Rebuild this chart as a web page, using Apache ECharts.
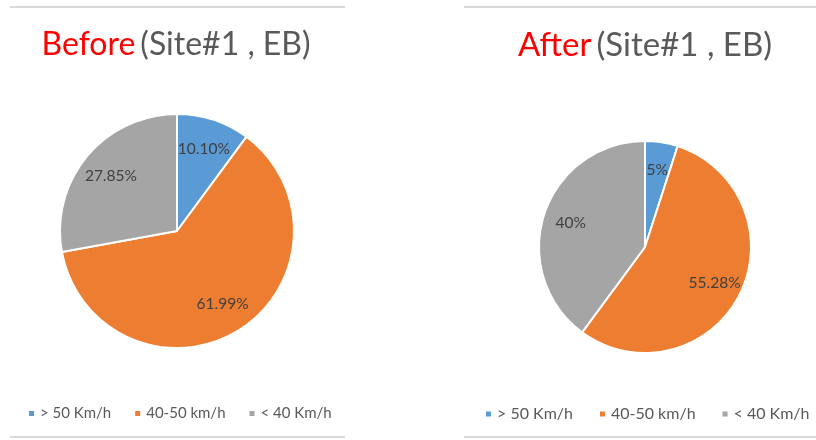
<!DOCTYPE html>
<html>
<head>
<meta charset="utf-8">
<script src="https://cdn.jsdelivr.net/npm/echarts@6/dist/echarts.min.js"></script>
<style>
  html, body { margin: 0; padding: 0; background: #ffffff; }
  #chart { width: 816px; height: 440px; }
</style>
</head>
<body>
<div id="chart"></div>
<script>
// Speed bands shown in both pies
const categories = ['> 50 Km/h', '40-50 km/h', '< 40 Km/h'];
const colors = ['#5B9BD5', '#ED7D31', '#A5A5A5'];

// Share of vehicles per speed band (percent)
const beforeValues = [10.10, 61.99, 27.85];
const afterValues = [5, 55.28, 40];

// Label text as printed on each slice
const beforeLabels = ['10.10%', '61.99%', '27.85%'];
const afterLabels = ['5%', '55.28%', '40%'];

const FONT = 'Lato, "Open Sans", sans-serif';

function sliceData(values) {
  return values.map((v, i) => ({ name: categories[i], value: v, itemStyle: { color: colors[i] } }));
}

// Visible pie: coloured slices with white separators
function pieSeries(values, center, radius) {
  return {
    type: 'pie',
    center: center,
    radius: [0, radius],
    startAngle: 90,
    clockwise: true,
    animation: false,
    silent: true,
    label: { show: false },
    labelLine: { show: false },
    itemStyle: { borderColor: '#ffffff', borderWidth: 2 },
    emphasis: { disabled: true },
    data: sliceData(values)
  };
}

// Transparent twin pie carrying the value labels, so the labels sit
// at roughly 70% of the visible radius instead of the midpoint
function labelSeries(values, labels, center, radius) {
  return {
    type: 'pie',
    center: center,
    radius: [0, radius * 1.42],
    startAngle: 90,
    clockwise: true,
    animation: false,
    silent: true,
    z: 5,
    itemStyle: { color: 'rgba(0,0,0,0)', borderWidth: 0 },
    emphasis: { disabled: true },
    labelLine: { show: false },
    label: {
      show: true,
      position: 'inside',
      fontFamily: FONT,
      fontSize: 15.5,
      color: '#404040',
      formatter: p => labels[p.dataIndex]
    },
    data: values.map((v, i) => ({ name: categories[i], value: v }))
  };
}

function titleItem(word, centerX, size) {
  return {
    text: '{a|' + word + '} {b|(Site#1 , EB)}',
    left: centerX - 5,
    top: 24,
    textAlign: 'center',
    textStyle: {
      fontWeight: 'normal',
      rich: {
        a: { fontFamily: FONT, fontSize: size, fontWeight: 'normal', color: '#FF0000' },
        b: { fontFamily: FONT, fontSize: size, fontWeight: 'normal', color: '#595959' }
      }
    }
  };
}

function legendItem(left, size, gap) {
  return {
    left: left,
    top: 401,
    icon: 'rect',
    itemWidth: 7,
    itemHeight: 7,
    itemGap: gap,
    selectedMode: false,
    textStyle: { fontFamily: FONT, fontSize: size, color: '#595959' },
    data: categories
  };
}

function hLine(x1, x2, y) {
  return {
    type: 'line',
    shape: { x1: x1, y1: y, x2: x2, y2: y },
    style: { stroke: '#D9D9D9', lineWidth: 2 },
    silent: true
  };
}

const chart = echarts.init(document.getElementById('chart'), null, { renderer: 'canvas' });

chart.setOption({
  backgroundColor: '#ffffff',
  animation: false,
  color: colors,
  title: [titleItem('Before', 176, 32), titleItem('After', 645, 33)],
  legend: [legendItem(22, 15, 22), legendItem(479, 16, 25)],
  graphic: [
    hLine(10, 345, 7),
    hLine(464, 816, 7),
    hLine(10, 345, 437),
    hLine(464, 816, 437)
  ],
  series: [
    pieSeries(beforeValues, [177, 231], 117),
    pieSeries(afterValues, [645, 247], 106),
    labelSeries(beforeValues, beforeLabels, [177, 231], 117),
    labelSeries(afterValues, afterLabels, [645, 247], 106)
  ]
});
</script>
</body>
</html>
